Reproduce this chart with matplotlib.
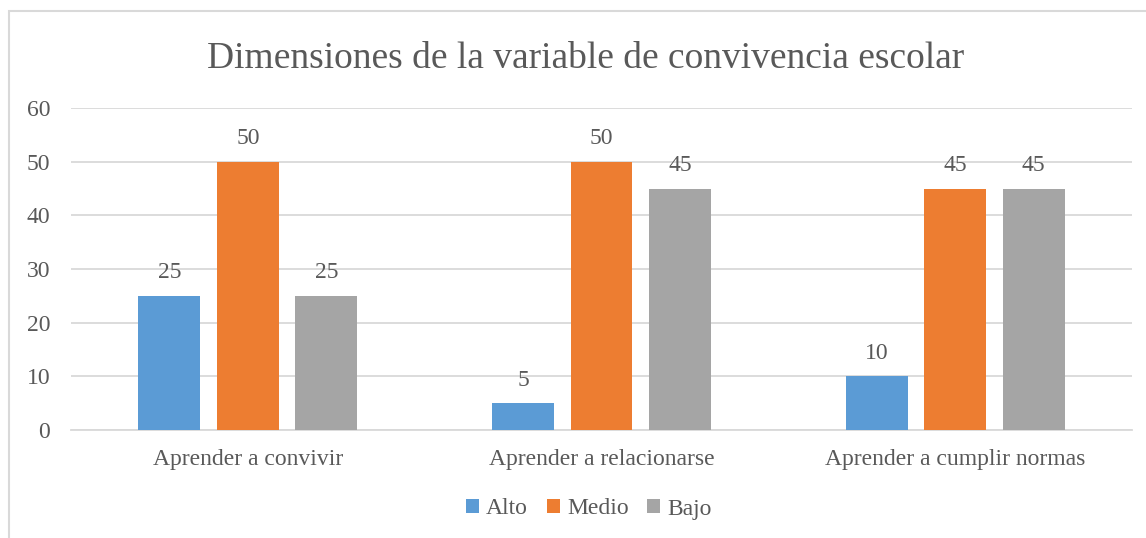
import matplotlib
matplotlib.use("Agg")
import matplotlib.pyplot as plt
from matplotlib.patches import Rectangle
import numpy as np

categories = ["Aprender a convivir", "Aprender a relacionarse", "Aprender a cumplir normas"]
series_names = ["Alto", "Medio", "Bajo"]
alto = [25, 5, 10]
medio = [50, 50, 45]
bajo = [25, 45, 45]
y_ticks = [0, 10, 20, 30, 40, 50, 60]

colors = ["#5B9BD5", "#ED7D31", "#A5A5A5"]
text_color = "#595959"
grid_color = "#D9D9D9"

plt.rcParams["font.family"] = ["Liberation Serif", "DejaVu Serif"]

fig = plt.figure(figsize=(11.46, 5.38), dpi=100)
W, H = 1146, 538
ax = fig.add_axes([71 / W, 1 - 430 / H, (1132 - 71) / W, (430 - 108) / H])

# chart frame (only left and top visible in reference)
fig.patches.append(Rectangle((9 / W, -0.1), 1.2, (1 - 11 / H) + 0.1, transform=fig.transFigure,
                             fill=False, edgecolor=grid_color, linewidth=1.5))

x = np.arange(len(categories))
width = 0.175
step = 0.222
for i, (name, vals) in enumerate(zip(series_names, [alto, medio, bajo])):
    pos = x + (i - 1) * step
    ax.bar(pos, vals, width, color=colors[i], label=name, zorder=3)
    for p, v in zip(pos, vals):
        ax.annotate(str(v), (p, v), xytext=(0, 9), textcoords="offset points",
                    ha="center", va="bottom", fontsize=17, color=text_color)

ax.set_xlim(-0.5, len(categories) - 0.5)
ax.set_ylim(0, 60)
ax.set_yticks(y_ticks)
ax.set_xticks(x)
ax.set_xticklabels(categories)
ax.grid(axis="y", color=grid_color, linewidth=1.3, zorder=0)
ax.set_axisbelow(True)
for side in ["top", "right", "left"]:
    ax.spines[side].set_visible(False)
ax.spines["bottom"].set_color(grid_color)
ax.spines["bottom"].set_linewidth(1.3)
ax.tick_params(axis="both", length=0, labelsize=17, labelcolor=text_color)
ax.tick_params(axis="x", pad=14)
ax.tick_params(axis="y", pad=15)

fig.text(586 / W, 1 - 68 / H, "Dimensiones de la variable de convivencia escolar",
         ha="center", va="baseline", fontsize=27, color=text_color)

fig.legend(loc="center", bbox_to_anchor=(589 / W, 1 - 509 / H), ncol=3, frameon=False,
           fontsize=17, handlelength=0.55, handleheight=0.55, handletextpad=0.3,
           columnspacing=0.8, labelcolor=text_color)

fig.savefig("out.png", dpi=100)
